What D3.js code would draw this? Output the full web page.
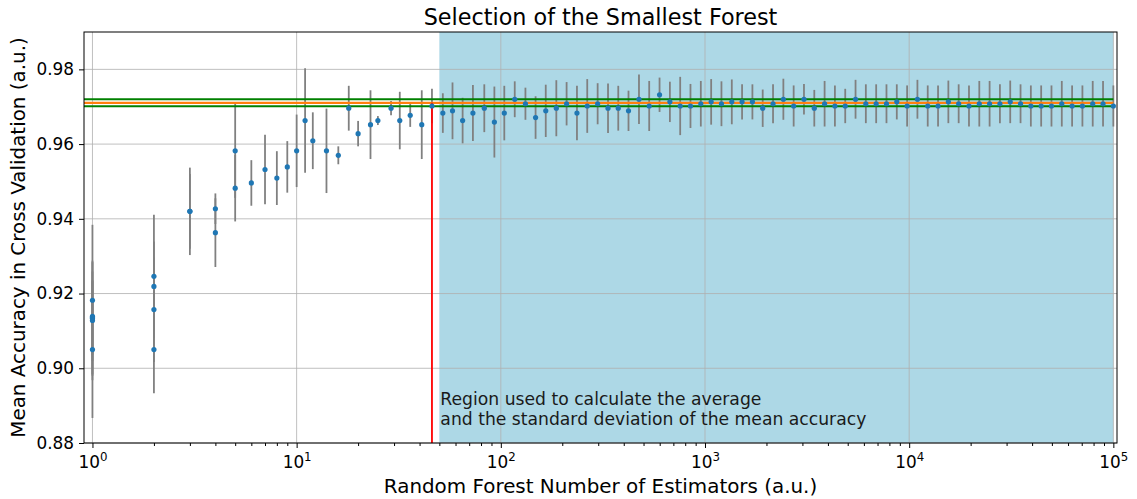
<!DOCTYPE html>
<html>
<head>
<meta charset="utf-8">
<script src="https://d3js.org/d3.v7.min.js"></script>
<style>
  body { margin: 0; background: #fff; }
  text { font-family: "DejaVu Sans", sans-serif; fill: #000; }
</style>
</head>
<body>
<script>
// number of trees tried (int of a log grid from 1 to 1e5)
var nEstimators = [1,1,1,1,1,1,2,2,2,2,3,3,4,4,5,5,6,7,8,9,10,11,12,14,16,18,20,23,25,29,32,36,41,46,
  52,58,65,73,83,93,104,117,132,148,166,187,210,236,265,298,335,376,422,475,533,599,673,756,849,954,
  1072,1204,1353,1519,1707,1917,2154,2420,2718,3053,3430,3853,4328,4862,5462,6135,6892,7742,8697,9770,
  10974,12328,13848,15556,17475,19630,22051,24770,27825,31257,35111,39442,44306,49770,55908,62802,70548,79248,89021,100000];

var meanAccuracy = [0.9182,0.9139,0.9134,0.9136,0.9128,0.9050,
  0.9246,0.9219,0.9157,0.9050,
  0.9420,0.9420,0.9427,0.9363,0.9582,0.9482,
  0.9496,0.9532,0.9509,0.9539,0.9582,0.9663,0.9609,0.9582,0.9570,0.9696,0.9628,0.9652,0.9663,0.9696,0.9663,0.9677,0.9652,0.9702,
  0.9683,0.9689,0.9663,0.9683,0.9696,0.9659,0.9683,0.9720,0.9708,0.9671,0.9689,0.9696,0.9708,0.9683,0.9702,0.9708,0.9696,
  0.9696,0.9689,0.9720,0.9702,0.9732,0.9713,0.9702,0.9702,0.9708,0.9713,0.9708,0.9713,0.9713,0.9713,0.9696,0.9708,
  0.9720,0.9702,0.9720,0.9696,0.9708,0.9702,0.9702,0.9720,0.9708,0.9708,0.9708,0.9713,0.9702,0.9720,0.9702,0.9702,
  0.9713,0.9708,0.9702,0.9708,0.9708,0.9708,0.9713,0.9708,0.9702,0.9702,0.9702,0.9708,0.9702,0.9702,0.9708,0.9708,0.9702];

var stdAccuracy = [0.0202,0.0120,0.0150,0.0100,0.0160,0.0183,
  0.0165,0.0120,0.0140,0.0117,
  0.0117,0.0100,0.0041,0.0092,0.0126,0.0089,
  0.0061,0.0093,0.0072,0.0069,0.0097,0.0140,0.0076,0.0113,0.0024,0.0060,0.0034,0.0092,0.0012,0.0019,0.0077,0.0031,0.0092,0.0046,
  0.0053,0.0076,0.0061,0.0075,0.0064,0.0095,0.0073,0.0048,0.0043,0.0057,0.0070,0.0075,0.0058,0.0073,0.0072,0.0055,0.0066,
  0.0060,0.0054,0.0066,0.0067,0.0046,0.0054,0.0078,0.0059,0.0061,0.0061,0.0060,0.0060,0.0047,0.0047,0.0050,0.0052,
  0.0055,0.0055,0.0041,0.0049,0.0061,0.0055,0.0046,0.0052,0.0052,0.0052,0.0052,0.0047,0.0055,0.0052,0.0055,0.0055,
  0.0057,0.0052,0.0055,0.0061,0.0061,0.0052,0.0057,0.0052,0.0055,0.0055,0.0055,0.0061,0.0055,0.0055,0.0061,0.0061,0.0055];

// stats of the plateau region
var regionStart = 50, regionEnd = 100000;
var regionMean = 0.97105, regionStd = 0.00092;
var smallestForest = 46;

var yTicks = [0.88, 0.90, 0.92, 0.94, 0.96, 0.98];
var xTicks = [1, 10, 100, 1000, 10000, 100000];

var data = nEstimators.map((n, i) => ({n: n, mean: meanAccuracy[i], std: stdAccuracy[i]}));

var width = 1137, height = 499;
var margin = {top: 32, right: 20, bottom: 56, left: 84};

var svg = d3.select("body").append("svg")
  .attr("width", width)
  .attr("height", height);

var x = d3.scaleLog()
  .domain([0.909, 104200])
  .range([margin.left, width - margin.right]);

var y = d3.scaleLinear()
  .domain([0.88, 0.99])
  .range([height - margin.bottom, margin.top]);

var x0 = x.range()[0], x1 = x.range()[1];
var y0 = y.range()[0], y1 = y.range()[1];

// shaded region
svg.append("rect")
  .attr("x", x(regionStart))
  .attr("y", y1)
  .attr("width", x(regionEnd) - x(regionStart))
  .attr("height", y0 - y1)
  .style("fill", "#add8e6");

// grid
svg.append("g").selectAll("line.gx")
  .data(xTicks).enter().append("line")
  .attr("x1", d => x(d)).attr("x2", d => x(d))
  .attr("y1", y1).attr("y2", y0)
  .style("stroke", "#b0b0b0").style("stroke-width", 0.8);

svg.append("g").selectAll("line.gy")
  .data(yTicks).enter().append("line")
  .attr("x1", x0).attr("x2", x1)
  .attr("y1", d => y(d)).attr("y2", d => y(d))
  .style("stroke", "#b0b0b0").style("stroke-width", 0.8);

// error bars
svg.append("g").selectAll("line.err")
  .data(data).enter().append("line")
  .attr("x1", d => x(d.n)).attr("x2", d => x(d.n))
  .attr("y1", d => y(d.mean - d.std)).attr("y2", d => y(d.mean + d.std))
  .style("stroke", "#808080").style("stroke-width", 1.8);

// mean and +- std of the region
svg.append("line")
  .attr("x1", x0).attr("x2", x(regionEnd))
  .attr("y1", y(regionMean)).attr("y2", y(regionMean))
  .style("stroke", "#ff7f0e").style("stroke-width", 2.2);

[regionMean + regionStd, regionMean - regionStd].forEach(v => {
  svg.append("line")
    .attr("x1", x0).attr("x2", x(regionEnd))
    .attr("y1", y(v)).attr("y2", y(v))
    .style("stroke", "#008000").style("stroke-width", 2);
});

// smallest forest
svg.append("line")
  .attr("x1", x(smallestForest)).attr("x2", x(smallestForest))
  .attr("y1", y(regionMean)).attr("y2", y0)
  .style("stroke", "#ff0000").style("stroke-width", 1.8);

// points
svg.append("g").selectAll("circle")
  .data(data).enter().append("circle")
  .attr("cx", d => x(d.n))
  .attr("cy", d => y(d.mean))
  .attr("r", 2.6)
  .style("fill", "#1f77b4");

svg.append("text")
  .attr("x", x(regionStart) + 1)
  .attr("y", 405)
  .style("font-size", "17.2px")
  .style("fill", "#1a1a1a")
  .text("Region used to calculate the average");
svg.append("text")
  .attr("x", x(regionStart) + 1)
  .attr("y", 425)
  .style("font-size", "17.2px")
  .style("fill", "#1a1a1a")
  .text("and the standard deviation of the mean accuracy");

// axes
var yAxis = d3.axisLeft(y)
  .tickValues(yTicks)
  .tickSize(5)
  .tickPadding(5)
  .tickFormat(d3.format(".2f"));

var gy = svg.append("g")
  .attr("transform", `translate(${x0},0)`)
  .call(yAxis);
gy.select(".domain").remove();
gy.selectAll("text").style("font-size", "16.9px").style("font-family", "DejaVu Sans");

var minorTicks = [];
[1, 10, 100, 1000, 10000].forEach(b => {
  for (var m = 2; m <= 9; m++) minorTicks.push(b * m);
});

var gxMinor = svg.append("g")
  .attr("transform", `translate(0,${y0})`)
  .call(d3.axisBottom(x).tickValues(minorTicks).tickSize(3).tickFormat(""));
gxMinor.select(".domain").remove();

var gx = svg.append("g")
  .attr("transform", `translate(0,${y0})`)
  .call(d3.axisBottom(x).tickValues(xTicks).tickSize(5).tickFormat(""));
gx.select(".domain").remove();

gx.selectAll(".tick").append("text")
  .attr("y", 25)
  .attr("text-anchor", "middle")
  .style("font-size", "16.9px")
  .each(function(d) {
    var t = d3.select(this);
    t.append("tspan").text("10");
    t.append("tspan")
      .attr("dy", -7)
      .style("font-size", "11.8px")
      .text(Math.round(Math.log10(d)));
  });

svg.append("rect")
  .attr("x", x0).attr("y", y1)
  .attr("width", x1 - x0).attr("height", y0 - y1)
  .style("fill", "none").style("stroke", "#000").style("stroke-width", 1);

svg.append("text")
  .attr("x", (x0 + x1) / 2)
  .attr("y", 25)
  .attr("text-anchor", "middle")
  .style("font-size", "22.3px")
  .text("Selection of the Smallest Forest");

svg.append("text")
  .attr("x", (x0 + x1) / 2)
  .attr("y", 493)
  .attr("text-anchor", "middle")
  .style("font-size", "19.9px")
  .text("Random Forest Number of Estimators (a.u.)");

svg.append("text")
  .attr("transform", `translate(25,${(y0 + y1) / 2}) rotate(-90)`)
  .attr("text-anchor", "middle")
  .style("font-size", "19.9px")
  .text("Mean Accuracy in Cross Validation (a.u.)");
</script>
</body>
</html>
